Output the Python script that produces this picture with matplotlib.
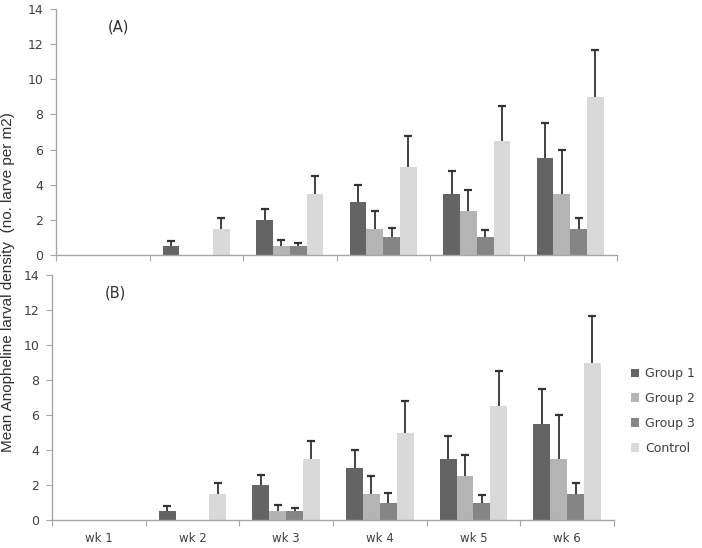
import numpy as np
import matplotlib.pyplot as plt

weeks = ['wk 1', 'wk 2', 'wk 3', 'wk 4', 'wk 5', 'wk 6']
groups = ['Group 1', 'Group 2', 'Group 3', 'Control']

# mean larval density per week (same values shown in both panels)
g1 = [0, 0.5, 2.0, 3.0, 3.5, 5.5]
g2 = [0, 0, 0.5, 1.5, 2.5, 3.5]
g3 = [0, 0, 0.5, 1.0, 1.0, 1.5]
ctrl = [0, 1.5, 3.5, 5.0, 6.5, 9.0]

# upper error bars
g1_err = [0, 0.3, 0.6, 1.0, 1.3, 2.0]
g2_err = [0, 0, 0.35, 1.0, 1.2, 2.5]
g3_err = [0, 0, 0.2, 0.55, 0.42, 0.6]
ctrl_err = [0, 0.6, 1.0, 1.8, 2.0, 2.65]

values = [g1, g2, g3, ctrl]
errors = [g1_err, g2_err, g3_err, ctrl_err]
colors = ['#646464', '#b4b4b4', '#858585', '#d9d9d9']

spine_col = '#a6a6a6'
text_col = '#404040'

fig = plt.figure(figsize=(7.02, 5.48), dpi=100)
axA = fig.add_axes([56/702, 1-255/548, 561/702, 246/548])
axB = fig.add_axes([52/702, 1-520/548, 562/702, 245/548])

w = 0.18
x = np.arange(len(weeks)) + 0.5
offsets = (np.arange(4) - 1.5) * w


def draw_panel(ax, tag, show_labels):
    for i in range(4):
        vals = np.array(values[i])
        errs = np.array(errors[i])
        xs = x + offsets[i]
        ax.bar(xs, vals, w, color=colors[i], label=groups[i], zorder=2)
        # only the upper half of the error bar is drawn
        m = errs > 0
        ax.vlines(xs[m], vals[m], vals[m] + errs[m], color='#333333',
                  lw=1.3, zorder=3)
        ax.plot(xs[m], vals[m] + errs[m], ls='none', marker='_',
                ms=6, mew=1.6, color='#333333', zorder=3)
    ax.set_xlim(0, 6)
    ax.set_ylim(0, 14)
    ax.set_yticks(range(0, 15, 2))
    ax.set_xticks(range(7))
    ax.set_xticklabels([])
    ax.set_xticks(x, minor=True)
    if show_labels:
        ax.set_xticklabels(weeks, minor=True)
    ax.tick_params(axis='x', which='major', length=4, color=spine_col)
    ax.tick_params(axis='x', which='minor', length=0, pad=9,
                   labelsize=8.5, labelcolor=text_col)
    ax.tick_params(axis='y', length=4, color=spine_col, labelsize=9,
                   labelcolor=text_col, pad=5)
    for s in ['top', 'right']:
        ax.spines[s].set_visible(False)
    for s in ['left', 'bottom']:
        ax.spines[s].set_color(spine_col)
        ax.spines[s].set_linewidth(1.0)
    ax.text(0.093, 0.925, tag, transform=ax.transAxes, fontsize=10.5,
            color='#303030', ha='left', va='center')


draw_panel(axA, '(A)', False)
draw_panel(axB, '(B)', True)

axB.legend(loc='upper left', bbox_to_anchor=(1.01, 0.67), frameon=False,
           fontsize=9, labelcolor=text_col, handlelength=0.65,
           handleheight=0.65, handletextpad=0.5, labelspacing=0.95)

fig.text(0.012, 1-282/548, 'Mean Anopheline larval density  (no. larve per m2)',
         rotation=90, ha='center', va='center', fontsize=11,
         family='Liberation Sans', color='#303030')

fig.savefig('out.png', dpi=100)
